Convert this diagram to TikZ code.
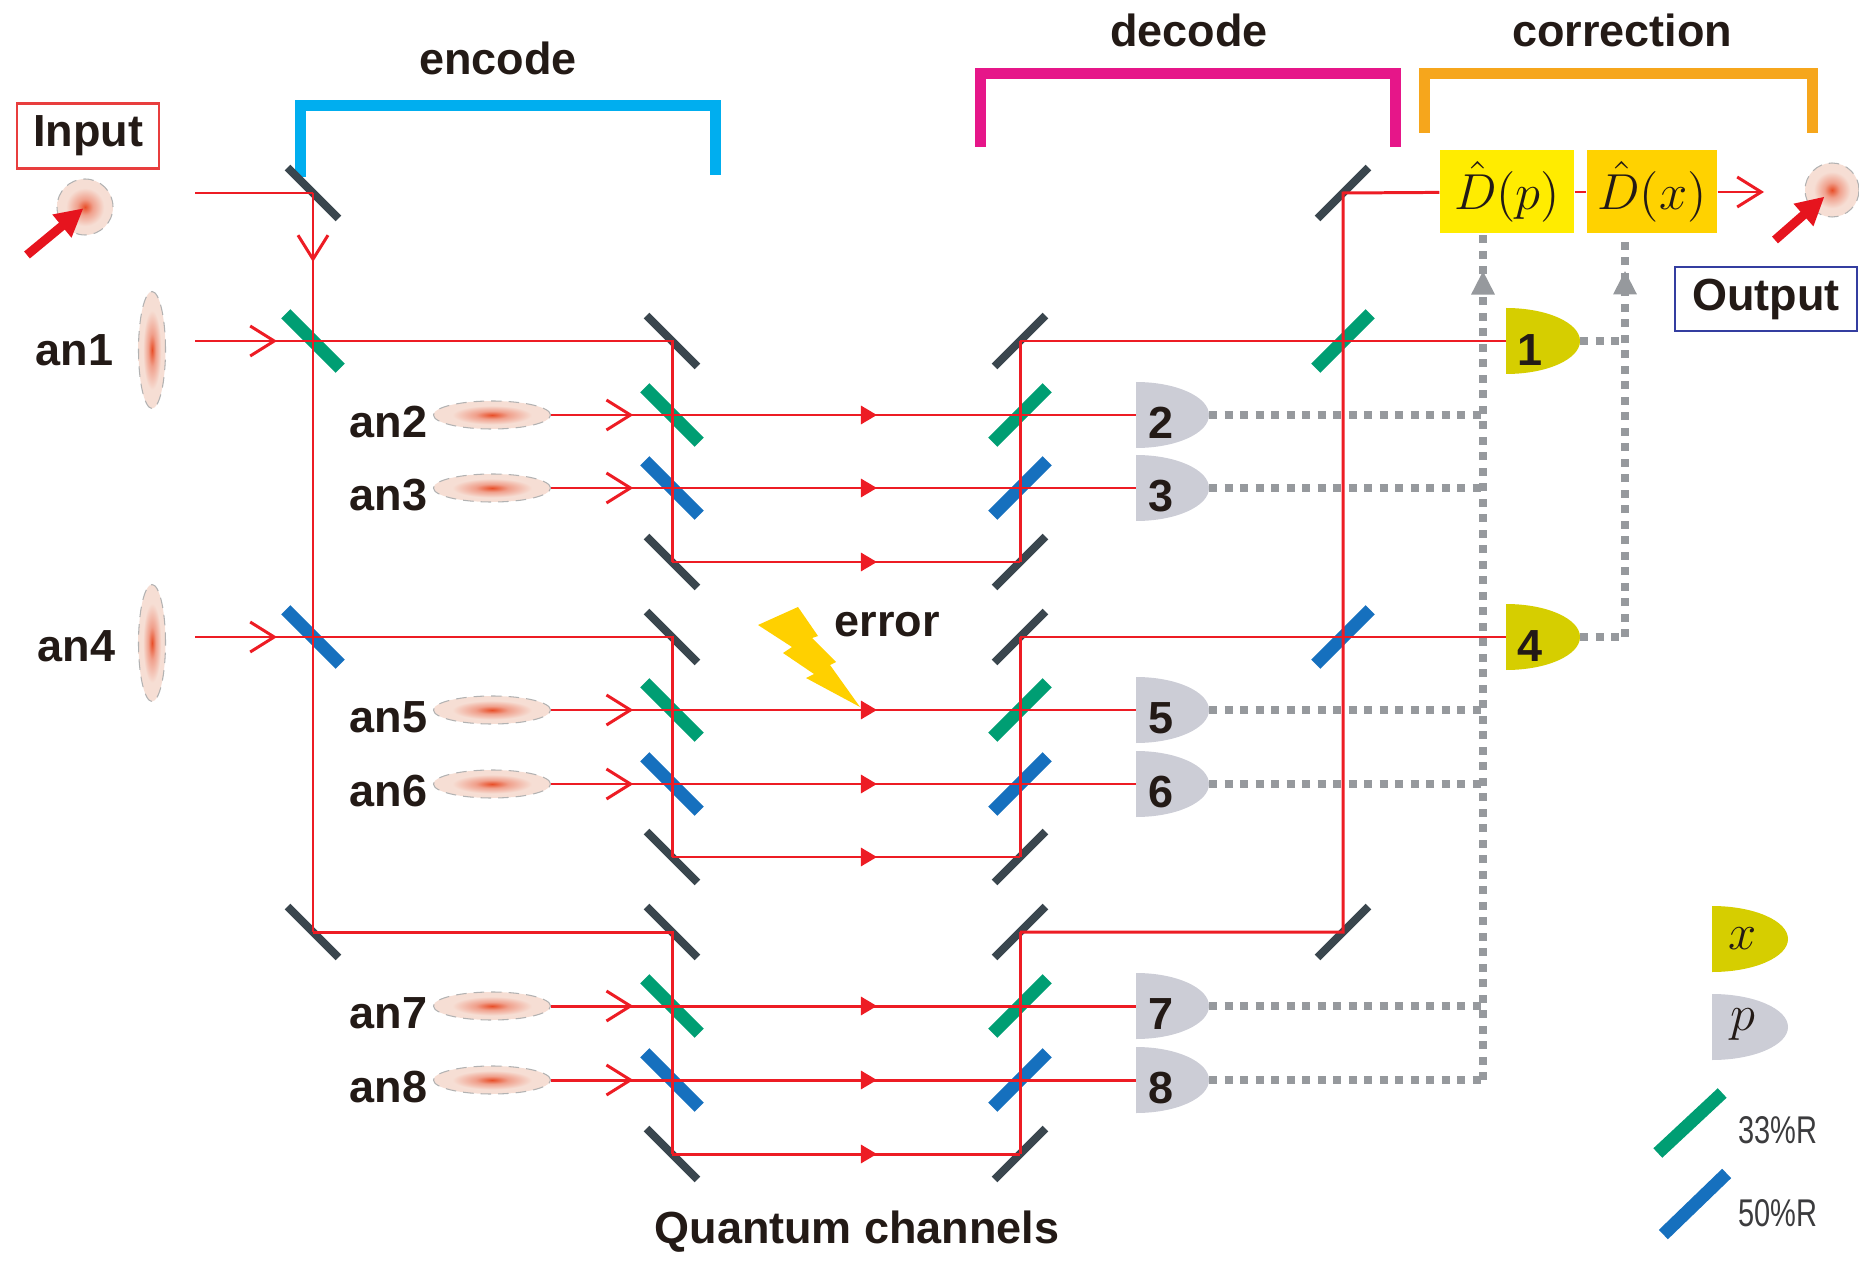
\documentclass[tikz,border=0pt]{standalone}
\usepackage[no-math]{fontspec}
\setmainfont{Liberation Sans}
\usepackage{graphicx}
\usetikzlibrary{arrows.meta, positioning, shapes.geometric, decorations.markings}

\definecolor{beamred}{RGB}{237,28,36}
\definecolor{kickred}{RGB}{230,20,30}
\definecolor{mirrorgray}{RGB}{58,70,78}
\definecolor{bsgreen}{RGB}{0,158,115}
\definecolor{bsblue}{RGB}{22,112,190}
\definecolor{detgray}{RGB}{204,205,214}
\definecolor{detyellow}{RGB}{214,206,0}
\definecolor{feedgray}{RGB}{150,153,157}
\definecolor{encodecyan}{RGB}{0,174,239}
\definecolor{decodepink}{RGB}{230,22,137}
\definecolor{corrorange}{RGB}{246,166,28}
\definecolor{dpyellow}{RGB}{255,236,0}
\definecolor{dxgold}{RGB}{255,210,0}
\definecolor{boltyellow}{RGB}{255,208,0}
\definecolor{textdark}{RGB}{35,26,22}
\definecolor{legendgray}{RGB}{60,60,62}
\definecolor{inred}{RGB}{232,62,62}
\definecolor{outblue}{RGB}{52,62,160}
\definecolor{pulsecore}{RGB}{232,78,40}
\definecolor{pulsemid}{RGB}{240,160,140}
\definecolor{pulseedge}{RGB}{246,222,212}

\pgfdeclareradialshading{pulseglow}{\pgfpoint{0bp}{0bp}}{%
  color(0bp)=(pulsecore); color(7bp)=(pulsemid); color(17bp)=(pulseedge);
  color(25bp)=(pulseedge); color(50bp)=(pulseedge)}

\tikzset{
  beam/.style={draw=beamred, line width=0.85pt},
  barb at/.style={postaction={decorate}, decoration={markings,
    mark=at position #1 with {\arrow{Straight Barb[length=0.24cm,width=0.3cm,color=beamred]}}}},
  tri at/.style={postaction={decorate}, decoration={markings,
    mark=at position #1 with {\arrow{Triangle[length=0.16cm,width=0.18cm,color=beamred]}}}},
  mirror/.style={rectangle, fill=mirrorgray, inner sep=0pt, minimum width=0.72cm, minimum height=0.08cm},
  bs/.style={rectangle, inner sep=0pt, minimum width=0.77cm, minimum height=0.13cm},
  bsg/.style={bs, fill=bsgreen},
  bsb/.style={bs, fill=bsblue},
  pulse/.style={ellipse, inner sep=0pt, shade, shading=pulseglow, draw=gray!60, densely dashed, line width=0.3pt},
  kick/.style={draw=kickred, line width=0.09cm, -{Triangle[length=0.28cm,width=0.28cm]}},
  lbl/.style={font=\fontsize{12.8}{15}\selectfont\bfseries, text=textdark, inner sep=0pt},
  lgd/.style={font=\fontsize{11}{13}\selectfont, text=legendgray, inner sep=0pt},
  mathlbl/.style={font=\fontsize{14.4}{17}\selectfont, text=textdark, inner sep=0pt},
  tagbox/.style={lbl, line width=0.6pt, inner sep=0pt, minimum height=0.65cm},
  corrbox/.style={mathlbl, rectangle, minimum height=0.83cm},
  bracket/.style={line width=0.11cm},
  feed/.style={draw=feedgray, line width=0.08cm, dash pattern=on 0.08cm off 0.075cm},
  feedtip at/.style={postaction={decorate}, decoration={markings,
    mark=at position #1 with {\arrow{Triangle[length=0.24cm,width=0.22cm,color=feedgray]}}}},
}

\begin{document}
\begin{tikzpicture}
\useasboundingbox (0,0) rectangle (18.59,-12.62);

% stage brackets
\node[lbl] (enc) at (4.98,-0.58) {encode};
\node[lbl] (dec) at (11.89,-0.30) {decode};
\node[lbl] (cor) at (16.22,-0.30) {correction};
\draw[bracket, encodecyan] (3.00,-1.77) |- (7.15,-1.06) -- (7.15,-1.75);
\draw[bracket, decodepink] (9.80,-1.47) |- (13.95,-0.735) -- (13.95,-1.47);
\draw[bracket, corrorange] (14.24,-1.33) |- (18.12,-0.735) -- (18.12,-1.33);

% input and output
\node[tagbox, draw=inred, minimum width=1.42cm] (inlbl) at (0.88,-1.36) {Input};
\node[tagbox, draw=outblue, minimum width=1.82cm, minimum height=0.64cm] (outlbl) at (17.66,-2.99) {Output};
\node[pulse, circle, minimum size=0.56cm] (pin) at (0.85,-2.07) {};
\node[pulse, circle, minimum size=0.54cm] (pout) at (18.32,-1.90) {};
\coordinate (pin-tail) at (0.27,-2.55);
\coordinate (pout-tail) at (17.75,-2.40);
\draw[kick, shorten >=0.02cm] (pin-tail) -- (pin.center);
\draw[kick, shorten >=0.1cm] (pout-tail) -- (pout.center);

% ancilla pulses
\node[pulse, minimum width=0.27cm, minimum height=1.17cm] (p1) at (1.52,-3.50) {};
\node[pulse, minimum width=0.27cm, minimum height=1.17cm] (p5) at (1.52,-6.43) {};
\node[lbl, left=0.24cm of p1] (an1) {an1};
\node[lbl, left=0.22cm of p5, yshift=-0.03cm] (an4) {an4};

% mirrors and beam splitters
\foreach \k/\y/\kind in {0/1.93/mirror,1/3.41/bsg,5/6.37/bsb,9/9.32/mirror}{
  \node[\kind, rotate=-45] (a\k) at (3.13,-\y) {};
  \node[\kind, rotate=45] (d\k) at (13.43,-\y) {};
}
\foreach \k/\y/\kind in {1/3.41/mirror,2/4.15/bsg,3/4.88/bsb,4/5.62/mirror,
    5/6.37/mirror,6/7.10/bsg,7/7.84/bsb,8/8.57/mirror,
    9/9.32/mirror,10/10.06/bsg,11/10.80/bsb,12/11.54/mirror}{
  \node[\kind, rotate=-45] (b\k) at (6.72,-\y) {};
  \node[\kind, rotate=45] (c\k) at (10.20,-\y) {};
}

% displacement boxes
\node[corrbox, fill=dpyellow, minimum width=1.34cm] (Dp) at (15.07,-1.92) {$\hat{D}(p)$};
\node[corrbox, fill=dxgold, minimum width=1.30cm] (Dx) at (16.52,-1.92) {$\hat{D}(x)$};

% detector positions
\foreach \n/\y in {2/4.15,3/4.88,5/7.10,6/7.84,7/10.06,8/10.80}{
  \coordinate (det\n-in) at (11.36,-\y);
  \coordinate (det\n-out) at (12.09,-\y);
}
\foreach \n/\y in {1/3.41,4/6.37}{
  \coordinate (det\n-in) at (15.06,-\y);
  \coordinate (det\n-out) at (15.80,-\y);
}
\coordinate (src0) at (1.95,-1.93);
\coordinate (src1) at (1.95,-3.41);
\coordinate (src5) at (1.95,-6.37);
\coordinate (outtip) at (17.64,-1.92);
\coordinate (fbp) at (14.83,-10.80);
\coordinate (fbx) at (16.25,-6.37);

% encoding beams
\draw[beam] (src0) -- (a0.center);
\draw[beam, barb at=0.0934] (a0.center) -- (a9.center);
\draw[beam] (a9.center) -- (b9.center) -- (b12.center);
\draw[beam, barb at=0.695] (src1) -- (a1.center);
\draw[beam] (a1.center) -- (b1.center) -- (b4.center);
\draw[beam, barb at=0.695] (src5) -- (a5.center);
\draw[beam] (a5.center) -- (b5.center) -- (b8.center);
\foreach \k/\n/\y in {2/2/4.15,3/3/4.88,6/5/7.10,7/6/7.84,10/7/10.06,11/8/10.80}{
  \node[pulse, minimum width=1.17cm, minimum height=0.28cm] (p\k) at (4.92,-\y) {};
  \node[lbl, left=0.05cm of p\k, yshift=-0.07cm] (an\n) {an\n};
  \draw[beam, barb at=0.68] (p\k) -- (b\k.center);
}

% quantum channels
\foreach \k in {2,3,4,6,7,8,10,11,12}
  \draw[beam, tri at=0.589] (b\k.center) -- (c\k.center);

% decoding beams
\draw[beam] (c1.center) -- (c4.center);
\draw[beam] (c5.center) -- (c8.center);
\draw[beam] (c9.center) -- (c12.center);
\draw[beam] (c1.center) -- (d1.center) -- (det1-in);
\draw[beam] (c5.center) -- (d5.center) -- (det4-in);
\draw[beam] (c9.center) -- (d9.center) -- (d0.center) -- (Dp);
\draw[beam] (Dp) -- (Dx);
\draw[beam, -{Straight Barb[length=0.24cm,width=0.3cm]}] (Dx) -- (outtip);

% p detectors with feed-forward
\foreach \n/\k in {2/2,3/3,5/6,6/7,7/10,8/11}{
  \draw[beam] (c\k.center) -- (det\n-in);
  \fill[detgray] (det\n-in) ++(0,0.33) arc[start angle=90, end angle=-90, x radius=0.73, y radius=0.33] -- cycle;
  \node[lbl] (num\n) at ([xshift=0.25cm, yshift=-0.08cm]det\n-in) {\n};
  \draw[feed] (det\n-out) -- (det\n-out -| fbp);
}
\draw[feed, feedtip at=0.957] (fbp) -- (fbp |- Dp.south);

% x detectors
\foreach \n in {1,4}{
  \fill[detyellow] (det\n-in) ++(0,0.33) arc[start angle=90, end angle=-90, x radius=0.74, y radius=0.33] -- cycle;
  \node[lbl] (num\n) at ([xshift=0.24cm, yshift=-0.09cm]det\n-in) {\n};
}
\draw[feed] (det1-out) -- (det1-out -| fbx);
\draw[feed] (det4-out) -- (fbx);
\draw[feed, feedtip at=0.91] (fbx) -- (fbx |- Dx.south);

% error on a channel
\fill[boltyellow] (7.58,-6.25) -- (7.98,-6.07) -- (8.18,-6.36) -- (8.12,-6.38) -- (8.36,-6.62)
  -- (8.30,-6.65) -- (8.60,-7.07) -- (8.06,-6.78) -- (8.14,-6.74) -- (7.83,-6.53)
  -- (7.92,-6.47) -- cycle;
\node[lbl] (err) at (8.87,-6.25) {error};
\node[lbl] (qc) at (8.57,-12.32) {Quantum channels};

% legend
\fill[detyellow] (17.12,-9.06) arc[start angle=90, end angle=-90, x radius=0.76, y radius=0.33] -- cycle;
\node[mathlbl] (leg-x) at (17.43,-9.39) {$x$};
\fill[detgray] (17.12,-9.94) arc[start angle=90, end angle=-90, x radius=0.76, y radius=0.33] -- cycle;
\node[mathlbl] (leg-p) at (17.43,-10.25) {$p$};
\node[bsg, rotate=43, minimum width=0.88cm] (leg33) at (16.90,-11.23) {};
\node[lgd, anchor=west] (leg33-txt) at (17.38,-11.30) {\scalebox{0.75}[1]{33\%R}};
\node[bsb, rotate=44, minimum width=0.88cm] (leg50) at (16.95,-12.04) {};
\node[lgd, anchor=west] (leg50-txt) at (17.38,-12.13) {\scalebox{0.75}[1]{50\%R}};
\end{tikzpicture}
\end{document}
